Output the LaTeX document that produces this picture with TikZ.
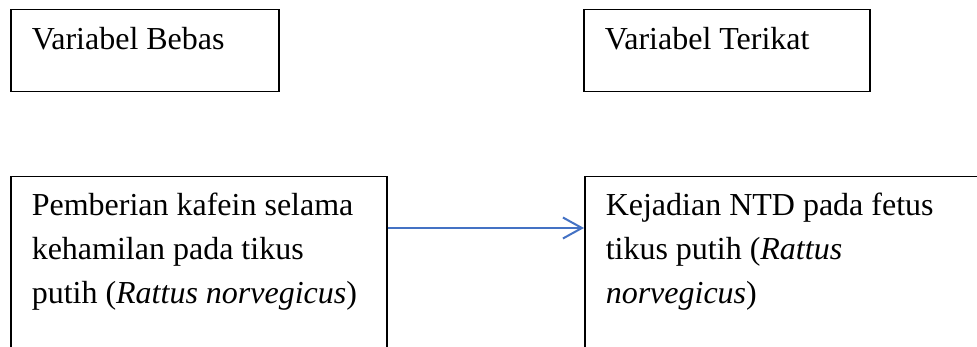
\documentclass[tikz,border=0pt]{standalone}
\usepackage{fontspec}
\setmainfont{Liberation Serif}
\usetikzlibrary{arrows.meta}
\begin{document}
\begin{tikzpicture}[x=1pt,y=-1pt,
  box/.style={draw=black, line width=1.5pt, anchor=north west, inner ysep=0pt,
    inner xsep=21pt, align=flush left, font=\fontsize{32}{44}\selectfont},
  link/.style={draw={rgb,255:red,68;green,114;blue,196}, line width=2pt,
    -{Straight Barb[length=19pt,width=21pt,line width=2pt]}}
]
\clip (0,0) rectangle (977,347);
\node[box, text width=226pt, text height=40pt, text depth=42pt] (A) at (10,9) {Variabel Bebas};
\node[box, text width=244pt, text height=40pt, text depth=42pt] (B) at (583,9) {Variabel Terikat};
\node[box, text width=334pt, text height=39pt, text depth=185pt] (C) at (10,176)
  {Pemberian kafein selama\\kehamilan pada tikus\\putih (\textit{Rattus norvegicus})};
\node[box, text width=420pt, text height=39pt, text depth=185pt] (D) at (584,176)
  {Kejadian NTD pada fetus\\tikus putih (\textit{Rattus}\\\textit{norvegicus})};
\coordinate (ay) at (0,228);
\draw[link] (C.east |- ay) -- (D.west |- ay);
\end{tikzpicture}
\end{document}
